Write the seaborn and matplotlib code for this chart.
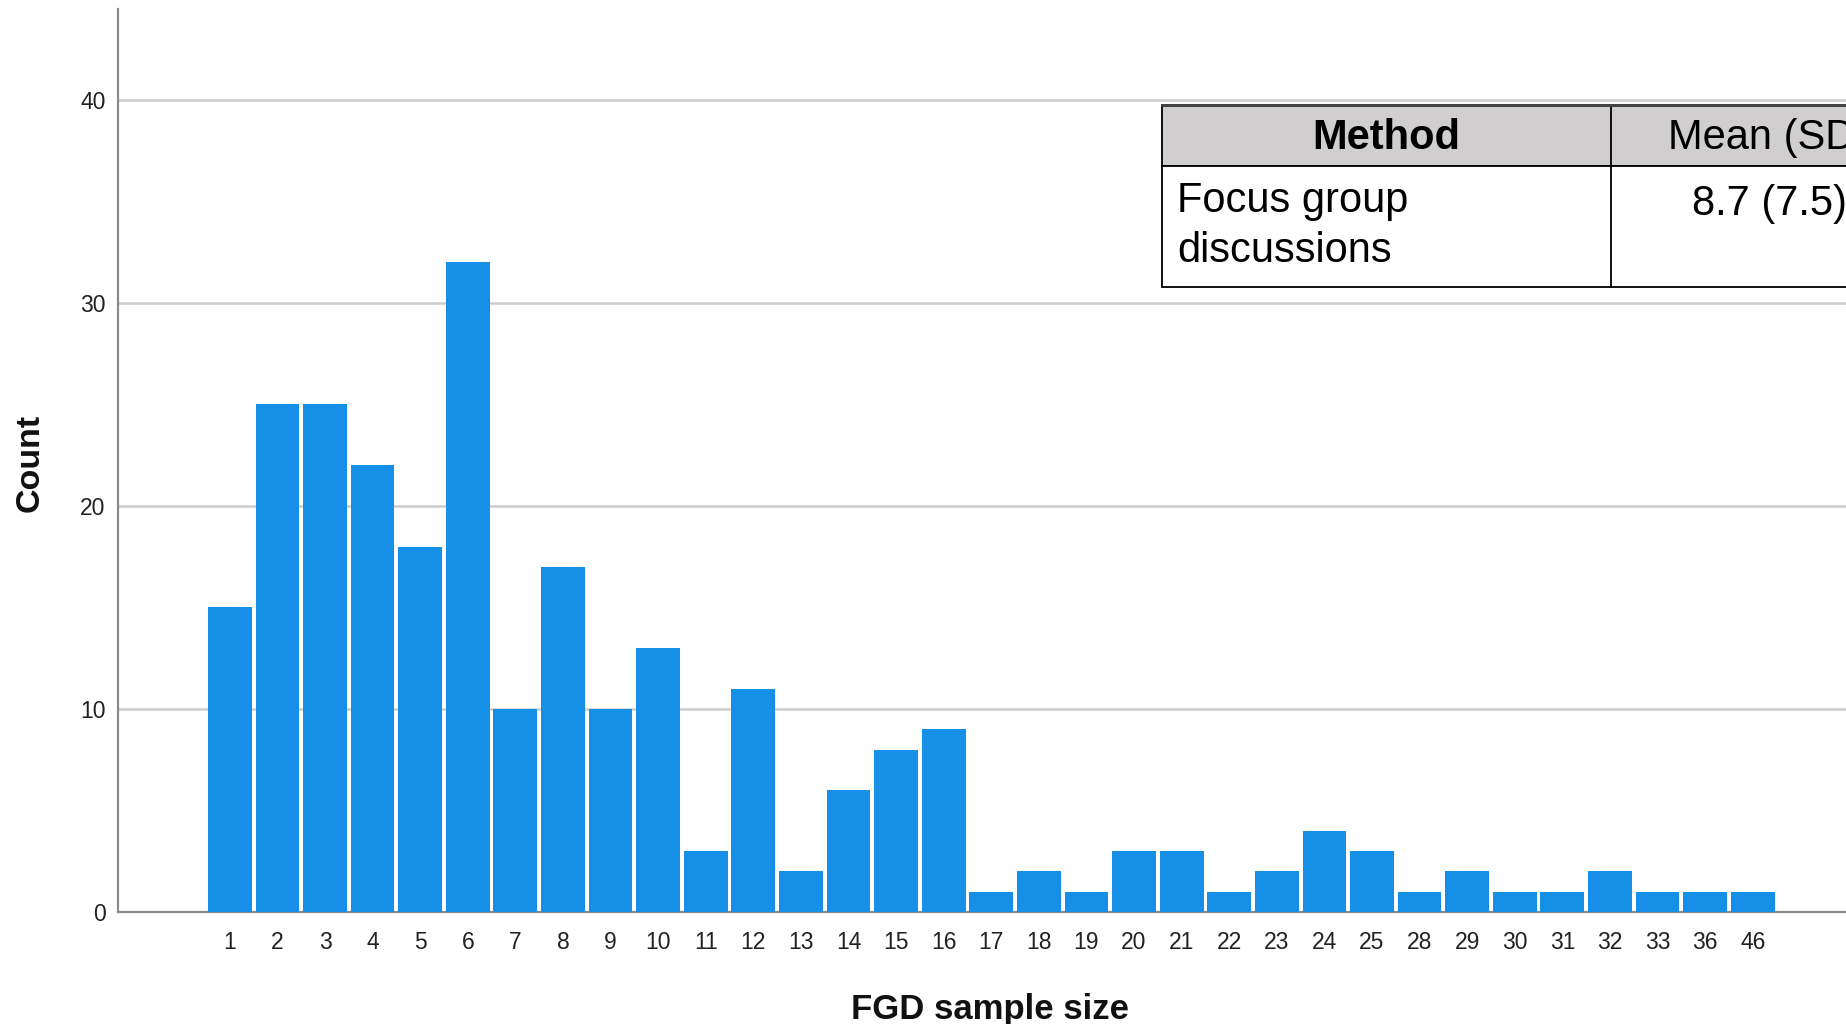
import matplotlib
matplotlib.use("Agg")
import matplotlib.pyplot as plt
import seaborn as sns
import pandas as pd
from matplotlib.patches import Rectangle

# ---- data ----
sample_sizes = ["1", "2", "3", "4", "5", "6", "7", "8", "9", "10", "11", "12", "13",
                "14", "15", "16", "17", "18", "19", "20", "21", "22", "23", "24", "25",
                "28", "29", "30", "31", "32", "33", "36", "46"]
counts = [15, 25, 25, 22, 18, 32, 10, 17, 10, 13, 3, 11, 2, 6, 8, 9, 1, 2, 1, 3,
          3, 1, 2, 4, 3, 1, 2, 1, 1, 2, 1, 1, 1]
y_ticks = [0, 10, 20, 30, 40]
table_header = ["Method", "Mean (SD)"]
table_row = ["Focus group\ndiscussions", "8.7 (7.5)"]

sns.set_theme(style="white")
plt.rcParams["font.family"] = ["Liberation Sans", "DejaVu Sans"]

W, H = 1846, 1024
fig = plt.figure(figsize=(W / 100, H / 100), dpi=100)
fig.patch.set_facecolor("white")

def fx(px):
    return px / W

def fy(py):
    return 1 - py / H

ax = fig.add_axes([fx(118), fy(912), 1 - fx(118), fy(9) - fy(912)])
ax.set_facecolor("white")

df = pd.DataFrame({"size": sample_sizes, "count": counts})
sns.barplot(data=df, x="size", y="count", order=sample_sizes, color="#1590E6",
            saturation=1, width=0.92, edgecolor="none", ax=ax, zorder=3)

ax.set_xlim(-2.35, 33.96)
ax.set_ylim(0, 44.48)
ax.set_yticks(y_ticks)
ax.set_yticklabels([str(t) for t in y_ticks])

ax.grid(axis="y", color="#CDCDCD", linewidth=1.8, zorder=0)
ax.grid(axis="x", visible=False)
ax.set_axisbelow(True)

for s in ["top", "right"]:
    ax.spines[s].set_visible(False)
for s in ["left", "bottom"]:
    ax.spines[s].set_visible(True)
    ax.spines[s].set_color("#8A8A8A")
    ax.spines[s].set_linewidth(1.6)

ax.tick_params(axis="y", length=0, pad=9, labelsize=16.5, labelcolor="#222222")
ax.tick_params(axis="x", which="major", length=0, pad=14, labelsize=16.5, labelcolor="#222222")
ax.set_xticks([i + 0.5 for i in range(-1, len(sample_sizes))], minor=True)
ax.tick_params(axis="x", which="minor", length=4, width=1.2, color="#555555", direction="out")

ax.set_xlabel("")
ax.set_ylabel("")
fig.text(fx(990), fy(1019), "FGD sample size", ha="center", va="baseline",
         fontsize=25, fontweight="bold", color="#111111")
fig.text(fx(30), fy(463), "Count", ha="center", va="center", rotation=90,
         fontsize=24.5, fontweight="bold", color="#111111")

# ---- summary table (cropped at right edge as in reference) ----
tx0, tx1, tx2 = 1162, 1611, 1930
ty0, ty1, ty2 = 105, 166, 287
fig.patches.append(Rectangle((fx(tx0), fy(ty1)), fx(tx2) - fx(tx0), fy(ty0) - fy(ty1),
                             transform=fig.transFigure, facecolor="#D0CECE",
                             edgecolor="black", linewidth=1.3, zorder=5))
fig.patches.append(Rectangle((fx(tx0), fy(ty2)), fx(tx2) - fx(tx0), fy(ty1) - fy(ty2),
                             transform=fig.transFigure, facecolor="white",
                             edgecolor="black", linewidth=1.3, zorder=5))
fig.lines.append(plt.Line2D([fx(tx1), fx(tx1)], [fy(ty0), fy(ty2)],
                            transform=fig.transFigure, color="black", linewidth=1.3, zorder=6))
fig.lines.append(plt.Line2D([fx(tx0), fx(tx2)], [fy(ty0), fy(ty0)],
                            transform=fig.transFigure, color="#444444", linewidth=2.2, zorder=6))

fig.text(fx((tx0 + tx1) / 2), fy(149), table_header[0], ha="center", va="baseline",
         fontsize=30, fontweight="bold", color="black", zorder=7)
fig.text(fx(1769), fy(149), table_header[1], ha="center", va="baseline",
         fontsize=30, color="black", zorder=7)
fig.text(fx(1177), fy(181), table_row[0], ha="left", va="top", linespacing=1.33,
         fontsize=30, color="black", zorder=7)
fig.text(fx(1769), fy(215), table_row[1], ha="center", va="baseline",
         fontsize=30, color="black", zorder=7)

fig.savefig("out.png", dpi=100, facecolor="white")
